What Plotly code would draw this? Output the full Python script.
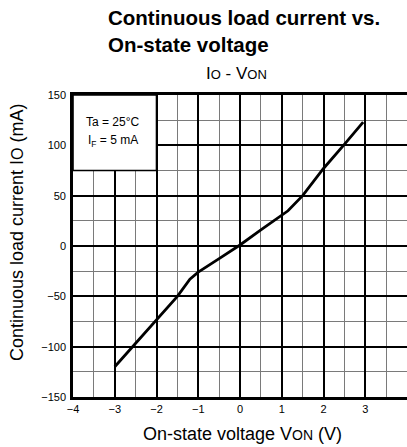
import plotly.graph_objects as go

# Data
von_v = [-3.0, -2.5, -2.0, -1.5, -1.2, -1.0, -0.5, 0.0, 0.5, 1.0, 1.15, 1.5, 2.0, 2.5, 2.95]
io_ma = [-120, -97, -74, -50, -33, -26, -12.5, 1, 16, 31, 35, 50, 77, 101, 123]

x_range = [-4, 4]
y_range = [-150, 150]
x_major, x_minor = 1, 0.5
y_major, y_minor = 50, 25

W, H = 407, 447
ML, MR, MT, MB = 73, 0, 95, 50
PW = W - ML - MR
PH = H - MT - MB

def px(xp):
    return (xp - ML) / PW

def py(yp):
    return (H - MB - yp) / PH

FONT = "Liberation Sans, Arial, sans-serif"

fig = go.Figure()
fig.add_trace(go.Scatter(
    x=von_v, y=io_ma, mode="lines",
    line=dict(color="black", width=2.8),
    showlegend=False, hoverinfo="skip", cliponaxis=False,
))

fig.update_layout(
    width=W, height=H,
    margin=dict(l=ML, r=MR, t=MT, b=MB),
    paper_bgcolor="white", plot_bgcolor="white",
    font=dict(family=FONT, color="black", size=11),
    xaxis=dict(
        range=x_range, tickmode="linear", tick0=0, dtick=x_major,
        showgrid=True, gridcolor="#000000", gridwidth=1.6,
        minor=dict(tickmode="linear", tick0=0, dtick=x_minor, showgrid=True,
                   gridcolor="#7a7a7a", gridwidth=1.3),
        showline=True, linecolor="black", linewidth=2.6, mirror=True,
        ticks="", zeroline=False, tickfont=dict(size=11, family=FONT),
        fixedrange=True,
    ),
    yaxis=dict(
        range=y_range, tickmode="linear", tick0=0, dtick=y_major,
        showgrid=True, gridcolor="#000000", gridwidth=1.6,
        minor=dict(tickmode="linear", tick0=0, dtick=y_minor, showgrid=True,
                   gridcolor="#7a7a7a", gridwidth=1.3),
        showline=True, linecolor="black", linewidth=2.6, mirror=False,
        ticks="", zeroline=False, tickfont=dict(size=11, family=FONT),
        ticklabelstandoff=2, fixedrange=True,
    ),
)

# Condition box (top-left)
fig.add_shape(type="rect", xref="x", yref="y", x0=-4, x1=-2, y0=75, y1=150,
              fillcolor="white", line=dict(color="black", width=1.6), layer="above")
fig.add_annotation(xref="x", yref="y", x=-3.05, y=123.5, text="Ta = 25°C", showarrow=False,
                   font=dict(size=12, family=FONT), xanchor="center", yanchor="middle")
fig.add_annotation(xref="x", yref="y", x=-3.05, y=104, text="I<sub>F</sub> = 5 mA", showarrow=False,
                   font=dict(size=12, family=FONT), xanchor="center", yanchor="middle")

# Titles
fig.add_annotation(xref="paper", yref="paper", x=px(106), y=py(4), xanchor="left", yanchor="top",
                   align="left", showarrow=False,
                   text="<b>Continuous load current vs.<br>On-state voltage</b>",
                   font=dict(size=20.5, family=FONT))
fig.add_annotation(xref="paper", yref="paper", x=px(236), y=py(73), xanchor="center", yanchor="middle",
                   showarrow=False,
                   text="I<span style='font-size:13px'>O</span> - V<span style='font-size:13px'>ON</span>",
                   font=dict(size=17, family=FONT))
fig.add_annotation(xref="paper", yref="paper", x=px(242), y=py(434), xanchor="center", yanchor="middle",
                   showarrow=False,
                   text="On-state voltage V<span style='font-size:14px'>ON</span> (V)",
                   font=dict(size=18, family=FONT))
fig.add_annotation(xref="paper", yref="paper", x=px(17), y=py(232), xanchor="center", yanchor="middle",
                   showarrow=False, textangle=-90,
                   text="Continuous load current I<span style='font-size:16px'>O</span> (mA)",
                   font=dict(size=18, family=FONT))

fig.write_html("out.html", config={"displayModeBar": False},
               post_script="document.body.style.margin='0';document.body.style.overflow='hidden';")
